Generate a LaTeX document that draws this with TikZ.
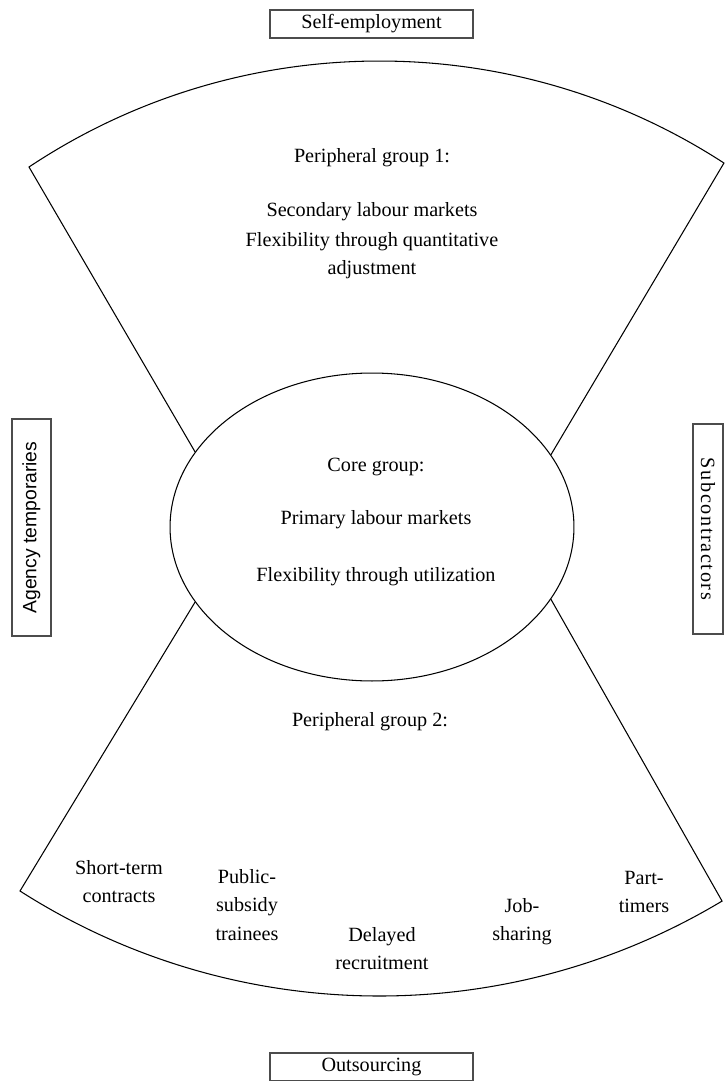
\documentclass[tikz,border=0pt]{standalone}
\usepackage{fontspec}
\setmainfont{Liberation Serif}
\setsansfont{Liberation Sans}
\newfontfamily\spacedfont[LetterSpace=8]{Liberation Serif}
\usetikzlibrary{shapes.geometric}

\tikzset{
  labeltext/.style={font=\fontsize{11.5}{16}\selectfont, align=center, inner sep=0pt},
  sidebox/.style={draw=black!70, line width=0.8pt, minimum width=4.06cm,
    minimum height=0.56cm, inner sep=0pt, font=\fontsize{11.5}{14}\selectfont},
  fan/.style={line width=0.6pt},
}

\begin{document}
\begin{tikzpicture}[x=0.02cm, y=-0.02cm]
  \useasboundingbox (0,0) rectangle (725,1081);
  \clip (0,0) rectangle (725,1081);
  % core
  \node[ellipse, draw, line width=0.6pt, inner sep=0pt,
    minimum width=8.08cm, minimum height=6.16cm] (core) at (372,527) {};
  % corners of the two fans
  \coordinate (tl) at (29,167);
  \coordinate (tr) at (724,163);
  \coordinate (bl) at (20,891);
  \coordinate (br) at (722,901);
  % upper fan
  \draw[fan] (core.157) -- (tl) arc[start angle=-123.65, end angle=-57, radius=632.5] -- (core.22);
  % lower fan
  \draw[fan] (core.203) -- (bl) arc[start angle=122.6, end angle=59.04, radius=666.6] -- (core.338);
  % outer boxes
  \node[sidebox] (self) at (371.5,24) {Self-employment};
  \node[sidebox] (outs) at (371.5,1067) {Outsourcing};
  \node[sidebox, rotate=90, minimum width=4.34cm, minimum height=0.78cm,
    font=\sffamily\fontsize{11}{13}\selectfont] (agency) at (31.5,527.5) {Agency temporaries};
  \node[sidebox, rotate=-90, minimum width=4.2cm, minimum height=0.6cm] (subc) at (708,529) {\spacedfont Subcontractors};
  % peripheral group 1
  \node[labeltext] (pg1) at (372,158) {Peripheral group 1:};
  \node[labeltext] (slm) at (372,212) {Secondary labour markets};
  \node[labeltext] (fqa) at (372,256) {Flexibility through quantitative\\adjustment};
  % core group
  \node[labeltext] (cg) at (376,467) {Core group:};
  \node[labeltext] (plm) at (376,520) {Primary labour markets};
  \node[labeltext] (fu) at (376,577) {Flexibility through utilization};
  % peripheral group 2
  \node[labeltext] (pg2) at (370,722) {Peripheral group 2:};
  \node[labeltext] (stc) at (119,882) {Short-term\\contracts};
  \node[labeltext] (pst) at (247,905) {Public-\\subsidy\\trainees};
  \node[labeltext] (dr) at (382,949) {Delayed\\recruitment};
  \node[labeltext] (js) at (522,922) {Job-\\sharing};
  \node[labeltext] (pt) at (644,892) {Part-\\timers};
\end{tikzpicture}
\end{document}
